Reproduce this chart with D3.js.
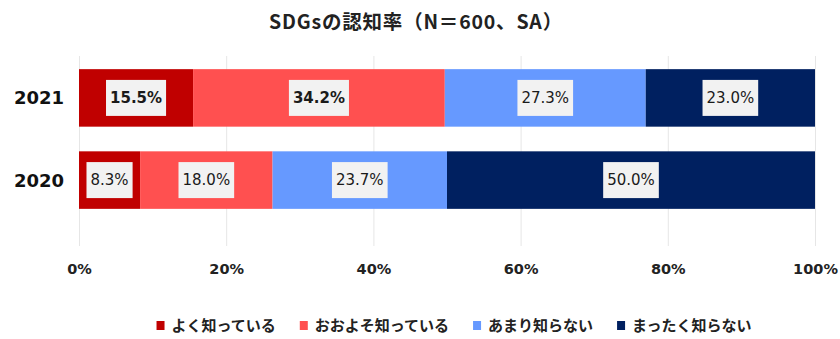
<!DOCTYPE html>
<html><head><meta charset="utf-8">
<script src="https://cdn.jsdelivr.net/npm/d3@7"></script>
<style>body{margin:0;background:#fff}svg{display:block}</style>
</head><body>
<svg id="c" width="840" height="339"></svg>
<script>
const title = "SDGsの認知率（N＝600、SA）";
const years = ["2021", "2020"];
const seriesNames = ["よく知っている", "おおよそ知っている", "あまり知らない", "まったく知らない"];
const colors = ["#C00000", "#FF5050", "#6699FF", "#002060"];
const v2021 = [15.5, 34.2, 27.3, 23.0];
const v2020 = [8.3, 18.0, 23.7, 50.0];
const ticks = [0, 20, 40, 60, 80, 100];
const boldLabels = [[true, true, false, false], [false, false, false, false]];

const numFont = "DejaVu Sans, Verdana, sans-serif";
const rows = [v2021, v2020];
const svg = d3.select("#c");
const x = d3.scaleLinear().domain([0, 100]).range([79, 815]);
const y = d3.scaleBand().domain(years).range([56, 222]).paddingInner(0.3).paddingOuter(0.16);

svg.append("text").attr("x", 416).attr("y", 29).attr("text-anchor", "middle")
  .attr("font-family", "'Noto Sans CJK JP'").attr("font-weight", "bold").attr("font-size", 19.5)
  .attr("letter-spacing", 0.8).attr("fill", "#222").text(title);

// gridlines
svg.append("g").selectAll("line").data(ticks).join("line")
  .attr("x1", d => x(d) + 0.5).attr("x2", d => x(d) + 0.5).attr("y1", 56).attr("y2", 246)
  .attr("stroke", "#e6e6e6").attr("stroke-width", 1);

// axis labels
const ax = d3.axisBottom(x).tickValues(ticks).tickFormat(d => d + "%").tickSize(0).tickPadding(0);
const axg = svg.append("g").attr("transform", "translate(0,264)").call(ax);
axg.select(".domain").remove();
axg.selectAll("text").attr("font-family", numFont).attr("font-weight", "bold")
  .attr("font-size", 14.5).attr("fill", "#222").attr("dy", "0.72em");

// year labels
const ya = d3.axisLeft(y).tickSize(0).tickPadding(0);
const yag = svg.append("g").attr("transform", "translate(64,0)").call(ya);
yag.select(".domain").remove();
yag.selectAll("text").attr("font-family", numFont).attr("font-weight", "bold")
  .attr("font-size", 18).attr("fill", "#111").attr("dy", "0.36em");

rows.forEach((vals, ri) => {
  let cum = 0;
  const segs = vals.map((v, i) => { const s = {x0: cum, x1: cum + v, v, i}; cum += v; return s; });
  const g = svg.append("g");
  g.selectAll("rect").data(segs).join("rect")
    .attr("x", d => x(d.x0)).attr("width", d => x(d.x1) - x(d.x0))
    .attr("y", y(years[ri])).attr("height", y.bandwidth())
    .attr("fill", d => colors[d.i]);
  segs.forEach(d => {
    const cx = (x(d.x0) + x(d.x1)) / 2, cy = y(years[ri]) + y.bandwidth() / 2;
    const bold = boldLabels[ri][d.i];
    const t = g.append("text").attr("x", cx).attr("y", cy).attr("text-anchor", "middle")
      .attr("dy", "0.36em").attr("font-family", numFont)
      .attr("font-weight", bold ? "bold" : "normal").attr("font-size", 15)
      .attr("fill", "#1a1a1a").text(d.v.toFixed(1) + "%");
    const w = t.node().getComputedTextLength();
    g.insert("rect", () => t.node())
      .attr("x", cx - w / 2 - 4).attr("y", cy - 18).attr("width", w + 8).attr("height", 36)
      .attr("fill", "#f2f2f2");
  });
});

// legend
const lg = svg.append("g");
let lx = 0;
seriesNames.forEach((n, i) => {
  lg.append("rect").attr("x", lx).attr("y", 321).attr("width", 8).attr("height", 9).attr("fill", colors[i]);
  const t = lg.append("text").attr("x", lx + 15).attr("y", 326).attr("dy", "0.36em")
    .attr("font-family", "'Noto Sans CJK JP'").attr("font-weight", "bold").attr("font-size", 15)
    .attr("fill", "#222").text(n);
  lx += 15 + t.node().getComputedTextLength() + 24;
});
const lw = lx - 24;
lg.attr("transform", `translate(${454 - lw / 2},0)`);
</script>
</body></html>
